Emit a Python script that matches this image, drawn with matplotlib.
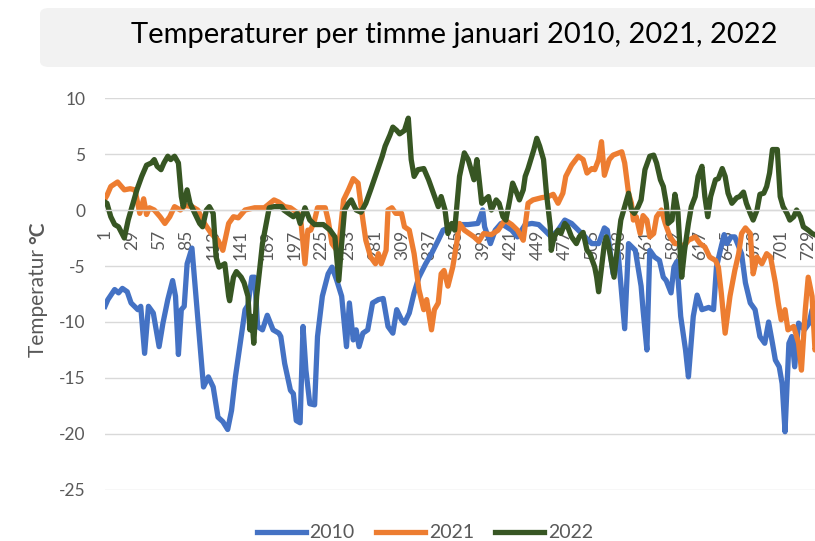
import matplotlib
matplotlib.use('Agg')
import matplotlib.pyplot as plt
from matplotlib.patches import FancyBboxPatch

plt.rcParams['font.family'] = ['Lato', 'DejaVu Sans']

# hourly temperatures, January (hour index -> degrees C)
h2010 = [1, 4, 11, 15, 19, 24, 28, 35, 38, 42,
         46, 51, 57, 61, 66, 71, 74, 77, 80, 83,
         86, 91, 94, 97, 101, 103, 108, 113, 118, 123,
         128, 132, 136, 141, 146, 149, 153, 156, 159, 164,
         169, 175, 181, 183, 187, 193, 196, 199, 203, 206,
         209, 213, 218, 221, 226, 232, 236, 241, 246, 251,
         254, 258, 261, 264, 268, 273, 278, 284, 289, 294,
         299, 303, 308, 311, 316, 321, 326, 333, 339, 346,
         351, 360, 370, 377, 387, 392, 394, 400, 405, 411,
         422, 428, 436, 443, 450, 456, 463, 470, 477, 484,
         491, 498, 505, 512, 518, 521, 527, 532, 539, 543,
         550, 556, 558, 562, 565, 570, 575, 579, 582, 587,
         590, 593, 597, 602, 605, 610, 614, 619, 626, 631,
         634, 638, 642, 645, 649, 653, 660, 664, 669, 674,
         679, 684, 688, 692, 695, 699, 702, 705, 709, 712,
         715, 719, 725, 730, 733, 738, 744]
t2010 = [-8.6, -8.0, -7.1, -7.4, -7.0, -7.3, -8.3, -8.9, -8.6, -12.8,
         -8.6, -9.2, -12.2, -10.1, -8.0, -6.3, -7.7, -12.9, -8.9, -8.6,
         -4.8, -3.4, -6.5, -9.5, -13.7, -15.8, -14.9, -15.8, -18.5, -18.9,
         -19.6, -17.9, -14.9, -11.9, -8.9, -8.5, -6.0, -6.0, -10.4, -10.7,
         -9.4, -10.7, -11.0, -11.3, -13.7, -16.1, -16.4, -18.8, -19.0, -10.4,
         -14.3, -17.3, -17.4, -11.3, -7.7, -5.7, -5.1, -6.3, -7.7, -12.2,
         -8.3, -11.6, -10.7, -12.2, -11.0, -10.7, -8.3, -8.0, -7.9, -10.4,
         -11.0, -8.9, -9.8, -10.1, -9.2, -7.4, -6.0, -4.8, -3.9, -2.7,
         -1.8, -1.5, -1.3, -1.3, -1.2, 0.0, -1.5, -3.0, -1.8, -1.2,
         -1.8, -2.4, -1.3, -1.2, -1.3, -1.8, -2.4, -1.8, -0.9, -1.2,
         -1.8, -2.4, -3.0, -3.0, -1.6, -1.8, -5.7, -3.6, -10.6, -3.0,
         -3.6, -6.8, -8.9, -12.5, -3.6, -4.2, -4.5, -6.0, -6.3, -7.4,
         -5.1, -4.6, -9.5, -12.5, -14.9, -9.5, -7.6, -8.9, -8.7, -8.9,
         -5.1, -3.6, -2.2, -3.0, -2.4, -2.4, -3.9, -6.5, -8.3, -8.9,
         -11.3, -11.9, -10.0, -11.9, -13.4, -14.0, -15.5, -19.8, -11.9, -11.3,
         -14.0, -10.1, -10.7, -10.1, -8.9, -9.5, -9.0]

h2021 = [1, 3, 7, 14, 21, 27, 32, 37, 41, 44,
         47, 52, 58, 63, 68, 73, 79, 84, 91, 97,
         104, 111, 118, 123, 129, 134, 139, 146, 156, 166,
         176, 181, 187, 193, 201, 204, 208, 211, 214, 218,
         221, 229, 232, 236, 241, 244, 248, 253, 258, 263,
         268, 271, 276, 281, 284, 287, 292, 294, 298, 302,
         308, 311, 316, 321, 326, 331, 334, 339, 342, 346,
         349, 352, 356, 361, 365, 368, 373, 383, 388, 393,
         401, 408, 415, 422, 428, 434, 439, 444, 453, 460,
         465, 470, 475, 478, 484, 491, 496, 500, 505, 508,
         512, 515, 518, 523, 527, 536, 539, 543, 546, 548,
         551, 555, 558, 562, 565, 569, 572, 577, 581, 586,
         591, 596, 600, 605, 612, 617, 622, 627, 633, 636,
         639, 643, 648, 653, 657, 660, 664, 669, 672, 676,
         681, 686, 690, 695, 698, 701, 705, 708, 714, 719,
         722, 726, 729, 733, 736, 740, 744]
t2021 = [1.0, 1.3, 2.1, 2.5, 1.8, 1.9, 1.8, -0.3, 1.0, -0.4,
         0.2, 0.0, -0.6, -1.2, -0.6, 0.3, 0.0, 0.4, 0.3, 0.0,
         -1.2, -2.1, -2.7, -3.6, -1.2, -0.6, -0.7, 0.0, 0.2, 0.2,
         0.9, 0.7, 0.3, 0.2, -0.3, -1.2, -4.8, -1.8, -1.8, -0.9,
         0.2, 0.2, -0.9, -3.0, -3.6, -2.4, 0.9, 1.8, 2.8, 2.4,
         -0.9, -2.7, -4.2, -4.8, -3.9, -4.8, -3.6, 0.0, 0.2, -0.3,
         -0.3, -1.5, -1.8, -3.9, -7.1, -8.9, -8.0, -10.7, -8.9, -8.3,
         -5.7, -5.4, -6.8, -5.1, -3.0, -1.2, -1.8, -2.4, -2.8, -2.1,
         -2.2, -1.8, -0.9, -1.3, -1.8, -2.7, 0.6, 0.9, 1.1, 1.2,
         1.4, 0.6, 1.5, 3.0, 4.0, 4.8, 4.5, 3.3, 3.7, 3.6,
         4.5, 6.1, 3.1, 4.5, 4.9, 5.2, 4.2, 1.5, 0.6, -0.9,
         -0.6, -2.1, -0.5, -0.9, -2.4, -2.1, -0.6, 0.0, -1.2, -2.4,
         -3.0, -3.0, -3.3, -2.7, -2.4, -3.0, -3.3, -4.2, -4.5, -5.1,
         -7.4, -11.0, -7.7, -5.4, -3.9, -2.1, -1.6, -2.1, -5.7, -4.2,
         -4.8, -3.9, -4.2, -6.5, -8.3, -9.8, -8.9, -10.7, -10.4, -11.9,
         -14.3, -8.9, -6.0, -7.7, -12.5, -11.5, -12.0]

h2022 = [1, 3, 7, 11, 15, 21, 25, 29, 34, 39,
         44, 49, 52, 55, 59, 62, 66, 69, 73, 77,
         80, 82, 86, 89, 94, 99, 102, 106, 109, 113,
         116, 119, 125, 129, 130, 134, 137, 142, 145, 149,
         151, 153, 155, 158, 161, 164, 168, 171, 176, 184,
         186, 191, 196, 200, 203, 208, 213, 218, 227, 234,
         239, 243, 246, 249, 253, 256, 261, 266, 271, 276,
         282, 288, 291, 296, 299, 303, 306, 311, 315, 318,
         321, 325, 331, 336, 341, 346, 349, 353, 356, 360,
         363, 368, 373, 377, 383, 386, 388, 391, 394, 398,
         401, 406, 409, 413, 416, 420, 423, 426, 430, 434,
         436, 439, 445, 448, 451, 455, 458, 462, 463, 466,
         470, 473, 477, 480, 484, 489, 492, 496, 500, 503,
         508, 510, 512, 518, 520, 522, 528, 532, 535, 540,
         543, 546, 549, 553, 556, 560, 565, 569, 572, 576,
         579, 582, 584, 588, 591, 594, 598, 601, 605, 608,
         612, 615, 619, 622, 625, 628, 633, 636, 640, 643,
         646, 650, 655, 658, 662, 665, 669, 672, 676, 679,
         683, 686, 689, 692, 697, 700, 703, 707, 710, 714,
         717, 721, 724, 729, 733, 738, 744]
t2022 = [0.7, 0.6, -0.6, -1.3, -1.5, -2.5, -0.9, 0.3, 1.8, 3.0,
         4.0, 4.2, 4.5, 3.9, 3.6, 4.2, 4.8, 4.5, 4.8, 4.2,
         1.2, 0.3, 1.8, 0.6, -0.3, -1.2, -1.5, 0.0, 0.3, -0.3,
         -4.2, -5.1, -4.8, -7.7, -8.1, -6.0, -5.5, -6.0, -6.5, -7.7,
         -10.7, -9.5, -11.9, -7.7, -5.4, -3.0, -1.2, 0.2, 0.3, 0.3,
         0.0, -0.3, -0.6, -0.3, -1.2, 0.2, -0.9, -1.3, -1.3, -1.8,
         -2.4, -6.3, -3.0, 0.0, 0.6, 0.9, 0.0, -0.2, 0.6, 1.8,
         3.3, 4.8, 5.7, 6.7, 7.4, 7.1, 6.8, 7.1, 8.2, 4.5,
         3.0, 3.6, 3.7, 2.7, 1.5, 0.3, 1.2, 0.0, -2.1, -1.2,
         -1.8, 3.0, 5.1, 4.5, 2.7, 4.5, 3.0, 0.6, 0.9, 1.2,
         0.0, 0.9, 0.6, -0.6, -0.9, 0.9, 2.4, 1.8, 0.9, 1.8,
         3.0, 3.7, 5.4, 6.4, 5.7, 4.5, 1.5, -1.5, -3.6, -2.4,
         -1.8, -2.1, -1.2, -1.5, -2.4, -3.0, -2.4, -2.0, -3.6, -3.9,
         -5.1, -6.0, -7.3, -3.0, -2.4, -3.0, -6.0, -3.0, -0.9, 0.6,
         1.5, 0.0, -0.3, 0.3, 0.9, 3.6, 4.8, 4.9, 4.2, 2.7,
         2.1, 0.6, -1.2, -0.9, 1.4, 0.0, -6.0, -3.6, -1.2, 0.3,
         1.2, 3.0, 3.9, 1.2, -0.6, 1.2, 2.7, 2.8, 3.7, 3.0,
         1.5, 0.6, 1.1, 1.2, 1.6, 0.6, -0.3, -0.9, 0.0, 1.4,
         1.5, 2.1, 3.3, 5.4, 5.4, 1.2, 0.3, -0.3, -0.9, -0.6,
         0.0, -0.6, -1.5, -1.8, -2.1, -2.3, -2.6]

x_ticks = [1, 29, 57, 85, 113, 141, 169, 197, 225, 253, 281, 309, 337,
           365, 393, 421, 449, 477, 505, 533, 561, 589, 617, 645, 673, 701, 729]
y_ticks = [-25, -20, -15, -10, -5, 0, 5, 10]
y_labels = ['-25', '-20', '-15', '-10', '-5', '0', '5', '10']

grey = '#595959'
W, H = 815, 541

fig = plt.figure(figsize=(W / 100, H / 100), dpi=100)

# title box
box = FancyBboxPatch((40 / W, 1 - 67 / H), 800 / W, 59 / H,
                     boxstyle='round,pad=0,rounding_size=0.011',
                     transform=fig.transFigure, facecolor='#F2F2F2',
                     edgecolor='none')
fig.patches.append(box)
fig.text(454 / W, 1 - 43 / H, 'Temperaturer per timme januari 2010, 2021, 2022',
         ha='center', va='baseline', fontsize=21, color='black')

# plot area runs a bit past the right edge, as in the original
ax = fig.add_axes([105 / W, 1 - 490 / H, (822.7 - 105) / W, 392 / H])
ax.plot(h2010, t2010, color='#4472C4', lw=3.8, label='2010', solid_joinstyle='round')
ax.plot(h2021, t2021, color='#ED7D31', lw=3.8, label='2021', solid_joinstyle='round')
ax.plot(h2022, t2022, color='#375623', lw=3.8, label='2022', solid_joinstyle='round')

ax.set_xlim(1, 744)
ax.set_ylim(-25, 10)
ax.set_yticks(y_ticks)
ax.set_yticklabels(y_labels)
ax.set_xticks(x_ticks)
ax.set_xticklabels([str(t) for t in x_ticks])

for s in ['left', 'right', 'top']:
    ax.spines[s].set_visible(False)
ax.spines['bottom'].set_position(('data', 0))
ax.spines['bottom'].set_color('#D9D9D9')
ax.spines['bottom'].set_linewidth(1.0)
ax.grid(axis='y', color='#D9D9D9', lw=1.0)
ax.grid(axis='x', visible=False)
ax.set_axisbelow(True)
ax.tick_params(axis='x', length=0, pad=14, labelsize=12.5, labelcolor=grey,
               labelrotation=90)
ax.tick_params(axis='y', length=0, pad=14, labelsize=12.5, labelcolor=grey)

# y label: "Temperatur" plus bold "°C"
t1 = fig.text(38 / W, 1 - 357 / H, 'Temperatur ', rotation=90, ha='center',
              va='bottom', fontsize=15, color=grey)
ax.annotate('°C', xy=(0.5, 1.0), xycoords=t1, rotation=90, ha='center',
            va='bottom', fontsize=15, color=grey, fontweight='bold',
            annotation_clip=False)

fig.legend(loc='center', bbox_to_anchor=(425 / W, 1 - 533 / H), ncol=3,
           frameon=False, fontsize=14, handlelength=2.5, handletextpad=0.2,
           columnspacing=1.1, labelcolor=grey)

fig.savefig('out.png', dpi=100)
